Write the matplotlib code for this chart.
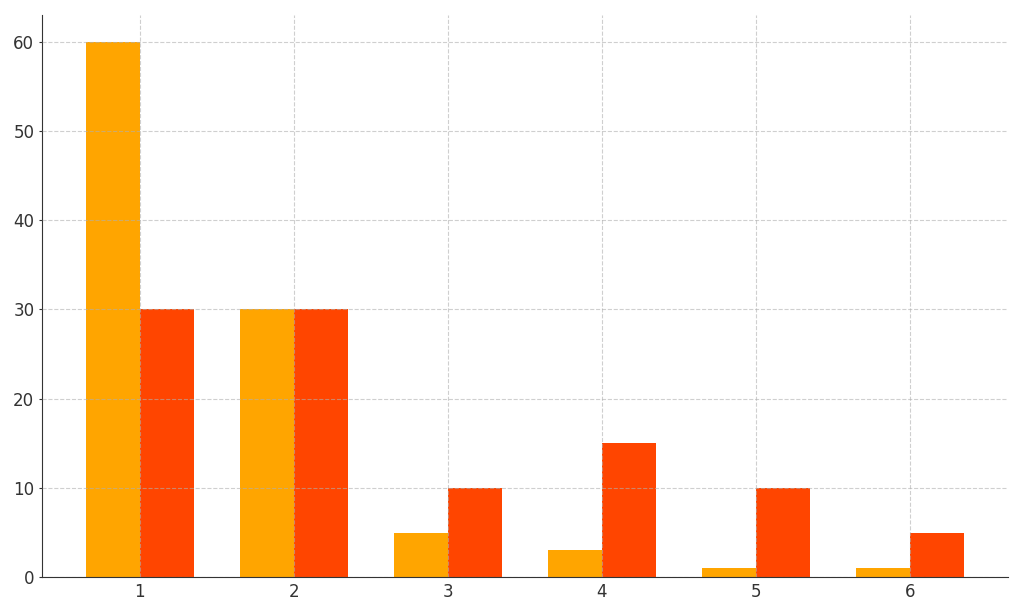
import matplotlib.pyplot as plt
import numpy as np

categories = [1, 2, 3, 4, 5, 6]
series_a = [60, 30, 5, 3, 1, 1]
series_b = [30, 30, 10, 15, 10, 5]

width = 0.35
x = np.array(categories)

fig = plt.figure(figsize=(10.24, 6.14), dpi=100)
ax = fig.add_axes([0.041, 0.060, 0.943, 0.916])

ax.bar(x - width / 2, series_a, width, color="#FFA500")
ax.bar(x + width / 2, series_b, width, color="#FF4500")

ax.set_xticks(categories)
ax.tick_params(labelsize=12, colors="#333333")
ax.tick_params(axis="x", length=0, pad=4)
ax.tick_params(axis="y", length=2.5, pad=3)
ax.grid(True, linestyle="--", color="#b0b0b0", alpha=0.6, linewidth=0.8)
ax.set_axisbelow(False)
for side in ["left", "bottom"]:
    ax.spines[side].set_color("#333333")
ax.spines["top"].set_visible(False)
ax.spines["right"].set_visible(False)

fig.savefig("out.png", dpi=100)
